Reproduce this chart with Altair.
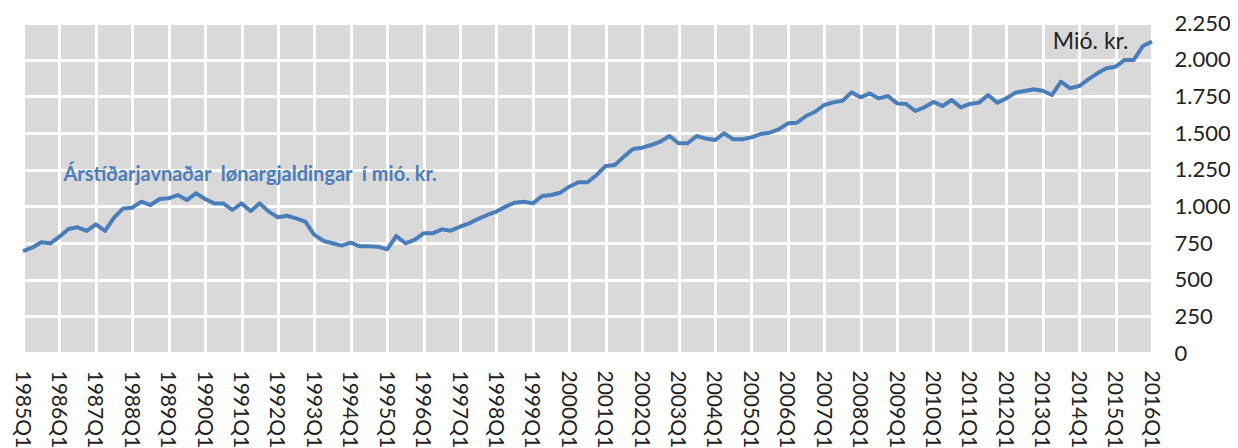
import altair as alt
import pandas as pd

# Quarter categories 1985Q1 .. 2016Q1
years = list(range(1985, 2017))
quarters = [f"{y}Q{q}" for y in years for q in (1, 2, 3, 4)][:125]

# Seasonally adjusted wage payments, million kr.
values_1985_1991 = [695, 718, 755, 748, 793, 845, 857, 832, 877, 832, 923, 986, 991,
                    1032, 1009, 1050, 1055, 1077, 1043, 1089, 1050, 1020, 1020, 975, 1020]
values_1991_1997 = [968, 1020, 964, 925, 936, 918, 895, 805, 764, 748, 732, 752, 727,
                    727, 725, 707, 798, 748, 771, 816, 816, 843, 834, 861, 884, 915]
values_1997_2003 = [941, 964, 998, 1025, 1032, 1020, 1070, 1077, 1093, 1134, 1164, 1164,
                    1214, 1275, 1282, 1339, 1391, 1400, 1418, 1441, 1480, 1430, 1430, 1480, 1462]
values_2004_2010 = [1452, 1498, 1457, 1457, 1470, 1493, 1502, 1525, 1566, 1570, 1616, 1645,
                    1691, 1709, 1720, 1777, 1743, 1770, 1736, 1752, 1702, 1698, 1650, 1675, 1712]
values_2010_2016 = [1684, 1725, 1675, 1698, 1707, 1759, 1707, 1736, 1775, 1786, 1798, 1788,
                    1759, 1850, 1805, 1820, 1866, 1907, 1941, 1952, 1998, 1998, 2093, 2123]
values = values_1985_1991 + values_1991_1997 + values_1997_2003 + values_2004_2010 + values_2010_2016

year_ticks = [q for q in quarters if q.endswith("Q1")]
y_ticks = [0, 250, 500, 750, 1000, 1250, 1500, 1750, 2000, 2250]

series_label = "Árstíðarjavnaðar\u00a0\u00a0lønargjaldingar\u00a0\u00a0í\u00a0mió.\u00a0kr."
series_label_quarter = "1986Q1"
series_label_value = 1173
unit_label = "Mió. kr."
unit_label_quarter = "2013Q2"
unit_label_value = 2073

df = pd.DataFrame({"quarter": quarters, "value": values})
ann1 = pd.DataFrame({"quarter": [series_label_quarter], "value": [series_label_value], "text": [series_label]})
ann2 = pd.DataFrame({"quarter": [unit_label_quarter], "value": [unit_label_value], "text": [unit_label]})

BLUE = "#4A7EBB"
FONT = "Lato"
TEXT = "#222222"

x_enc = alt.X(
    "quarter:O",
    sort=quarters,
    scale=alt.Scale(type="point", padding=0, domain=quarters),
    axis=alt.Axis(
        values=year_ticks,
        title=None,
        labelAngle=90,
        labelAlign="left",
        labelBaseline="middle",
        labelPadding=17,
        labelOffset=-2,
        labelFont=FONT,
        labelFontSize=21,
        labelColor=TEXT,
        ticks=False,
        domain=False,
        grid=True,
        gridColor="white",
        gridWidth=3,
        labelOverlap=False,
    ),
)
y_enc = alt.Y(
    "value:Q",
    scale=alt.Scale(domain=[0, 2250], nice=False, zero=True),
    axis=alt.Axis(
        orient="right",
        values=y_ticks,
        title=None,
        labelExpr="replace(format(datum.value, ','), ',', '.')",
        labelPadding=22,
        labelAlign="left",
        labelFont=FONT,
        labelFontSize=22,
        labelColor=TEXT,
        labelOverlap=False,
        ticks=False,
        domain=False,
        grid=True,
        gridColor="white",
        gridWidth=3,
    ),
)

line = alt.Chart(df).mark_line(color=BLUE, strokeWidth=4, strokeJoin="round")

t1 = alt.Chart(ann1).mark_text(
    align="left", baseline="alphabetic", dx=4, font=FONT, fontSize=20, fontWeight="bold", color=BLUE
).encode(text="text:N")

t2 = alt.Chart(ann2).mark_text(
    align="left", baseline="alphabetic", dx=1, font=FONT, fontSize=23, color=TEXT
).encode(text="text:N")

chart = (
    alt.layer(line, t1, t2)
    .encode(x=x_enc, y=y_enc)
    .properties(
        width=1129,
        height=330,
        autosize=alt.AutoSizeParams(type="none"),
        padding={"left": 15, "top": 15, "right": 78, "bottom": 95},
    )
    .configure(background="white", view=alt.ViewConfig(fill="#D9D9D9", stroke="transparent"))
)

chart.save("out.html", embed_options={"renderer": "svg", "actions": False})
